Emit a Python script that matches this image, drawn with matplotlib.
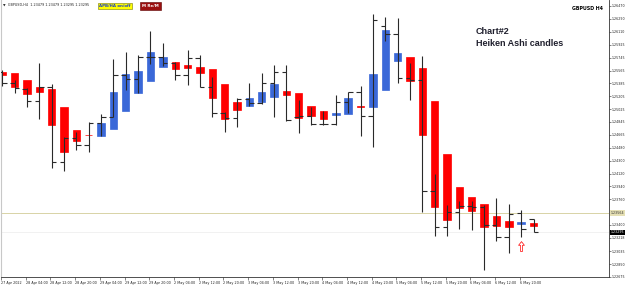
import numpy as np
import matplotlib.pyplot as plt
from matplotlib.path import Path

# GBPUSD H4 bars (black OHLC bars)
bar_open = [1.25545, 1.25386, 1.25302, 1.25138, 1.25330, 1.24287, 1.24615, 1.24521, 1.24834, 1.24918,
            1.25503, 1.25442, 1.25759, 1.25759, 1.25671, 1.25503, 1.25741, 1.25339, 1.24966, 1.24896,
            1.25169, 1.25114, 1.25395, 1.25540, 1.24907, 1.24928, 1.24816, 1.24811, 1.25128, 1.25269,
            1.24928, 1.26194, 1.26073, 1.25456, 1.25433, 1.23881, 1.23368, 1.23578, 1.23666, 1.23659,
            1.23400, 1.23227, 1.23568, 1.23479]
bar_high = [1.25573, 1.25433, 1.25320, 1.25675, 1.25376, 1.24633, 1.24708, 1.24848, 1.24956, 1.25723,
            1.25829, 1.25776, 1.26124, 1.25947, 1.25689, 1.25853, 1.25783, 1.25479, 1.24984, 1.25176,
            1.25395, 1.25526, 1.25643, 1.25643, 1.25152, 1.25058, 1.25002, 1.25222, 1.25271, 1.25348,
            1.26358, 1.26312, 1.26298, 1.25667, 1.25769, 1.24111, 1.23680, 1.23740, 1.23740, 1.23680,
            1.23774, 1.23694, 1.23610, 1.23479]
bar_low = [1.25348, 1.25250, 1.25058, 1.24882, 1.24199, 1.24157, 1.24451, 1.24427, 1.24652, 1.24907,
           1.25292, 1.25254, 1.25657, 1.25622, 1.25433, 1.25362, 1.25334, 1.24918, 1.24708, 1.24778,
           1.25068, 1.25103, 1.24910, 1.24858, 1.24685, 1.24802, 1.24795, 1.24795, 1.24966, 1.24647,
           1.24497, 1.25983, 1.25386, 1.25152, 1.23586, 1.23246, 1.23239, 1.23339, 1.23330, 1.22769,
           1.23175, 1.23003, 1.23227, 1.23295]
bar_close = [1.25386, 1.25320, 1.25138, 1.25330, 1.24287, 1.24615, 1.24521, 1.24834, 1.24918, 1.25503,
             1.25442, 1.25759, 1.25759, 1.25671, 1.25503, 1.25741, 1.25339, 1.24966, 1.24896, 1.25169,
             1.25114, 1.25395, 1.25540, 1.24872, 1.24928, 1.24816, 1.24811, 1.25128, 1.25269, 1.24928,
             1.26274, 1.26073, 1.25456, 1.25433, 1.23881, 1.23368, 1.23578, 1.23666, 1.23659, 1.23400,
             1.23227, 1.23554, 1.23344, 1.23295]

# Heiken Ashi bodies
ha_open = [1.25549, 1.25526, 1.25433, 1.25330, 1.25302, 1.25050, 1.24732, 1.24667, 1.24652, 1.24746,
           1.25002, 1.25254, 1.25419, 1.25619, 1.25681, 1.25643, 1.25619, 1.25583, 1.25376, 1.25128,
           1.25068, 1.25128, 1.25198, 1.25278, 1.25254, 1.25068, 1.25002, 1.24935, 1.24952, 1.25065,
           1.25058, 1.25292, 1.25703, 1.25759, 1.25597, 1.25138, 1.24395, 1.23928, 1.23788, 1.23694,
           1.23526, 1.23460, 1.23407, 1.23432]
ha_close = [1.25503, 1.25339, 1.25236, 1.25260, 1.24802, 1.24419, 1.24582, 1.24656, 1.24834, 1.25269,
            1.25517, 1.25559, 1.25821, 1.25759, 1.25583, 1.25601, 1.25535, 1.25176, 1.24882, 1.25012,
            1.25176, 1.25264, 1.25376, 1.25222, 1.24896, 1.24928, 1.24882, 1.24970, 1.25176, 1.25051,
            1.25517, 1.26133, 1.25807, 1.25423, 1.24661, 1.23656, 1.23470, 1.23642, 1.23596, 1.23376,
            1.23390, 1.23368, 1.23435, 1.23386]

time_labels = ["27 Apr 2022", "28 Apr 04:00", "28 Apr 12:00", "28 Apr 20:00", "29 Apr 04:00",
               "29 Apr 12:00", "29 Apr 20:00", "2 May 04:00", "2 May 12:00", "2 May 20:00",
               "3 May 04:00", "3 May 12:00", "3 May 20:00", "4 May 04:00", "4 May 12:00",
               "4 May 20:00", "5 May 04:00", "5 May 12:00", "5 May 20:00", "6 May 04:00",
               "6 May 12:00", "6 May 20:00"]
price_ticks = [1.26470, 1.26290, 1.26110, 1.25925, 1.25745, 1.25565, 1.25385, 1.25205, 1.25025,
               1.24845, 1.24665, 1.24480, 1.24300, 1.24120, 1.23940, 1.23760, 1.23400, 1.23218,
               1.23035, 1.22850, 1.22675]

ask_line = 1.23564
bid_price = 1.23295
arrow_bar = 42
arrow_price = 1.23105

BLUE = '#3a68d8'
RED = '#ff0000'

fig = plt.figure(figsize=(6.25, 2.86), dpi=100)
ax = fig.add_axes([1/625, 9/286, 608/625, 277/286])

x = np.arange(len(bar_open))
o = np.array(ha_open)
c = np.array(ha_close)
colors = [BLUE if cc > oo else RED for oo, cc in zip(o, c)]
ax.bar(x, c - o, bottom=o, width=0.6, color=colors, edgecolor=colors, linewidth=0.5, zorder=2)

# price bars
ax.vlines(x, bar_low, bar_high, color='#2a2a2a', linewidth=0.8, zorder=3)
ax.hlines(bar_open, x - 0.36, x, color='#2a2a2a', linewidth=0.8, zorder=3)
ax.hlines(bar_close, x, x + 0.36, color='#2a2a2a', linewidth=0.8, zorder=3)

# ask / bid lines
ax.axhline(ask_line, color='#d8d3a6', linewidth=0.7, zorder=1)
ax.axhline(bid_price, color='#ececec', linewidth=0.5, zorder=1)

# signal arrow
arrow = Path([(0, 1), (0.6, 0.25), (0.22, 0.25), (0.22, -1), (-0.22, -1), (-0.22, 0.25), (-0.6, 0.25), (0, 1)])
ax.plot([arrow_bar], [arrow_price], marker=arrow, markersize=7, markerfacecolor='white',
        markeredgecolor=RED, markeredgewidth=0.5, linestyle='none', zorder=4)

ax.set_xlim(-0.04, 49.11)
ax.set_ylim(1.22671, 1.26554)

ax.set_xticks(np.arange(len(time_labels)) * 2 - 0.1)
ax.set_xticklabels(time_labels)
for t in ax.get_xticklabels():
    t.set_ha('left')
ax.tick_params(axis='x', labelsize=2.4, length=2, width=0.4, pad=1, colors='#222222')

ax.yaxis.tick_right()
ax.set_yticks(price_ticks)
ax.set_yticklabels([f"{v:.5f}" for v in price_ticks])
ax.tick_params(axis='y', labelsize=2.3, length=1.2, width=0.4, pad=0.5, colors='#222222')

ax.spines['top'].set_visible(False)
ax.spines['left'].set_color('#c8c8c8')
ax.spines['left'].set_linewidth(0.8)
ax.spines['right'].set_color('#333333')
ax.spines['bottom'].set_color('#333333')
ax.spines['right'].set_linewidth(0.6)
ax.spines['bottom'].set_linewidth(0.6)

# price labels on the axis
ytr = ax.get_yaxis_transform()
ax.text(1.003, ask_line, f"{ask_line:.5f}", transform=ytr, fontsize=2.3, va='center', ha='left',
        color='#333333', bbox=dict(boxstyle='square,pad=0.3', fc='#e6e0b4', ec='none'), clip_on=False)
ax.text(1.003, bid_price, f"{bid_price:.5f}", transform=ytr, fontsize=2.3, va='center', ha='left',
        color='white', bbox=dict(boxstyle='square,pad=0.3', fc='black', ec='none'), clip_on=False)

# header and labels
fig.text(3/625, 1 - 5/286, "\u25bc  GBPUSD,H4  1.23479 1.23479 1.23295 1.23295", fontsize=2.4,
         va='center', ha='left', color='#222222')
fig.text(115/625, 1 - 6/286, "APB/HA on/off", fontsize=2.9, fontweight='bold', color='#1a3ccc',
         va='center', ha='center',
         bbox=dict(boxstyle='square,pad=0.35', fc='#ffff00', ec='#777700', lw=0.4))
fig.text(150.5/625, 1 - 6/286, "M Re/M", fontsize=2.9, fontweight='bold', color='white',
         va='center', ha='center',
         bbox=dict(boxstyle='square,pad=0.45', fc='#9b1010', ec='#5a0000', lw=0.4))
fig.text(603/625, 1 - 8/286, "GBPUSD H4", fontsize=3.4, fontweight='bold', color='black',
         va='center', ha='right')
fig.text(476/625, 1 - 32/286, "Chart#2", fontsize=6.5, fontweight='bold', color='#20202e',
         family='Liberation Sans', va='center', ha='left')
fig.text(476/625, 1 - 43.5/286, "Heiken Ashi candles", fontsize=6.5, fontweight='bold', color='#20202e',
         family='Liberation Sans', va='center', ha='left')

fig.savefig('out.png', dpi=100, facecolor='white')
